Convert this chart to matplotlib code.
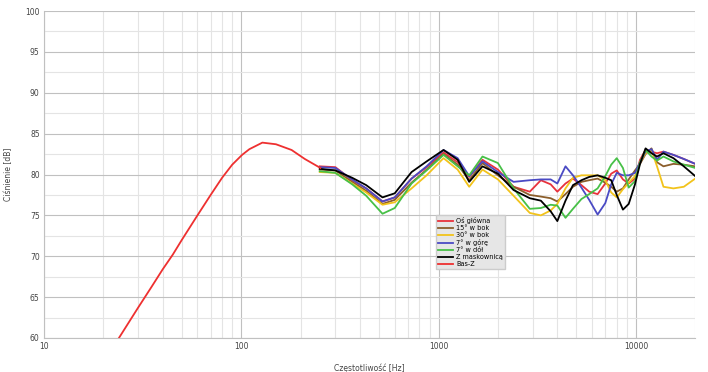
import matplotlib.pyplot as plt
from matplotlib.ticker import FixedLocator, NullFormatter

# Bas-Z (symulacja niskich częstotliwości)
bass_f = [24, 30, 35, 40, 45, 50, 60, 70, 80, 90, 101, 110, 128, 150, 180, 210, 252]
bass_db = [60.0, 63.7, 66.2, 68.4, 70.2, 72.0, 75.0, 77.5, 79.6, 81.2, 82.4, 83.1, 83.9,
           83.7, 83.0, 81.9, 80.8]

# wspólna siatka częstotliwości dla pomiarów
freq = [250, 300, 365, 430, 520, 600, 730, 870, 1060, 1250, 1430, 1670, 2000,
        2400, 2900, 3300, 3700, 4000, 4400, 4800, 5300, 5800, 6400, 7000, 7500,
        8000, 8600, 9200, 9900, 10500, 11200, 12000, 12800, 13800, 15500, 17500, 20000]

os_glowna = [81.0, 80.9, 79.3, 78.3, 76.7, 77.2, 79.5, 80.9, 82.7, 81.5, 79.7, 81.8, 80.6,
             78.5, 77.9, 79.3, 78.8, 77.9, 78.9, 79.5, 78.7, 77.9, 77.6, 78.9, 80.1,
             80.5, 79.4, 78.9, 79.5, 81.8, 83.0, 82.8, 82.6, 82.8, 82.4, 81.9, 81.3]
bok_15 = [80.6, 80.5, 79.1, 78.0, 76.4, 76.9, 79.0, 80.6, 82.5, 81.2, 79.3, 81.4, 79.9,
          78.5, 77.5, 77.3, 77.1, 76.7, 77.6, 78.5, 79.1, 79.3, 79.5, 79.0, 78.5,
          77.9, 78.3, 79.4, 80.5, 81.3, 82.5, 83.2, 81.5, 81.0, 81.3, 81.2, 81.0]
bok_30 = [80.3, 80.2, 78.9, 77.8, 76.3, 76.6, 78.3, 79.9, 82.0, 80.6, 78.5, 80.6, 79.4,
          77.4, 75.3, 75.0, 75.6, 76.4, 78.3, 79.6, 79.9, 79.9, 79.9, 79.3, 77.8,
          77.2, 78.2, 79.0, 79.8, 81.5, 82.6, 83.0, 81.0, 78.5, 78.3, 78.5, 79.5]
gora_7 = [80.9, 80.8, 79.4, 78.3, 76.7, 77.2, 79.5, 81.0, 83.0, 82.0, 79.8, 81.6, 80.3,
          79.1, 79.3, 79.4, 79.4, 78.9, 81.0, 79.9, 78.4, 76.9, 75.1, 76.5, 78.8,
          80.2, 79.9, 79.9, 80.2, 81.5, 82.8, 83.1, 81.8, 82.8, 82.4, 81.9, 81.3]
dol_7 = [80.4, 80.2, 78.8, 77.4, 75.2, 75.9, 78.9, 80.5, 82.4, 81.0, 79.9, 82.2, 81.4,
         78.3, 75.8, 75.9, 76.3, 76.2, 74.7, 75.8, 77.0, 77.6, 78.3, 79.8, 81.2,
         82.0, 80.8, 78.4, 79.2, 81.5, 83.0, 82.2, 81.7, 82.2, 81.6, 81.2, 80.8]
maskownica = [80.7, 80.5, 79.6, 78.7, 77.2, 77.7, 80.3, 81.6, 83.0, 81.8, 79.1, 81.0, 80.1,
              78.1, 77.1, 76.8, 75.5, 74.3, 76.8, 78.7, 79.3, 79.7, 79.9, 79.6, 79.3,
              77.5, 75.7, 76.4, 78.8, 81.3, 83.2, 82.6, 82.2, 82.6, 82.0, 81.0, 79.8]

series = [
    ("Oś główna", os_glowna, "#e8323c"),
    ("15° w bok", bok_15, "#8b5e2b"),
    ("30° w bok", bok_30, "#f2c31b"),
    ("7° w górę", gora_7, "#4a4ac4"),
    ("7° w dół", dol_7, "#47c047"),
    ("Z maskownicą", maskownica, "#000000"),
]

fig = plt.figure(figsize=(7.08, 3.72), dpi=100)
ax = fig.add_axes([0.062, 0.0914, 0.92, 0.879])

for name, vals, col in series:
    ax.plot(freq, vals, color=col, linewidth=1.3, label=name)
ax.plot(bass_f, bass_db, color="#ee3030", linewidth=1.3, label="Bas-Z")

ax.set_xscale("log")
ax.set_xlim(10, 20000)
ax.set_ylim(60, 100)
ax.set_yticks(range(60, 101, 5))
ax.yaxis.set_minor_locator(FixedLocator([62.5 + 5 * i for i in range(8)]))
ax.set_xticks([10, 100, 1000, 10000])
ax.set_xticklabels(["10", "100", "1000", "10000"])
ax.xaxis.set_minor_formatter(NullFormatter())

ax.grid(True, which="major", color="#c0c0c0", linewidth=0.8)
ax.grid(True, which="minor", color="#e4e4e4", linewidth=0.8)
ax.set_axisbelow(True)
for s in ax.spines.values():
    s.set_visible(False)
ax.spines["left"].set_visible(True)
ax.spines["bottom"].set_visible(True)
ax.spines["left"].set_color("#c0c0c0")
ax.spines["bottom"].set_color("#c0c0c0")
ax.tick_params(which="both", length=0, labelsize=5.5, labelcolor="#444444", pad=3)

ax.set_xlabel("Częstotliwość [Hz]", fontsize=5.5, color="#444444", labelpad=9)
ax.set_ylabel("Ciśnienie [dB]", fontsize=5.5, color="#444444", labelpad=9)

leg = ax.legend(loc="upper left", bbox_to_anchor=(0.602, 0.375), fontsize=4.7,
                frameon=True, fancybox=False, handlelength=2.4, handletextpad=0.45,
                labelspacing=0.15, borderpad=0.25, borderaxespad=0)
leg.get_frame().set_facecolor("#e6e6e6")
leg.get_frame().set_edgecolor("#cccccc")
leg.get_frame().set_alpha(1)

plt.savefig("out.png", dpi=100)
